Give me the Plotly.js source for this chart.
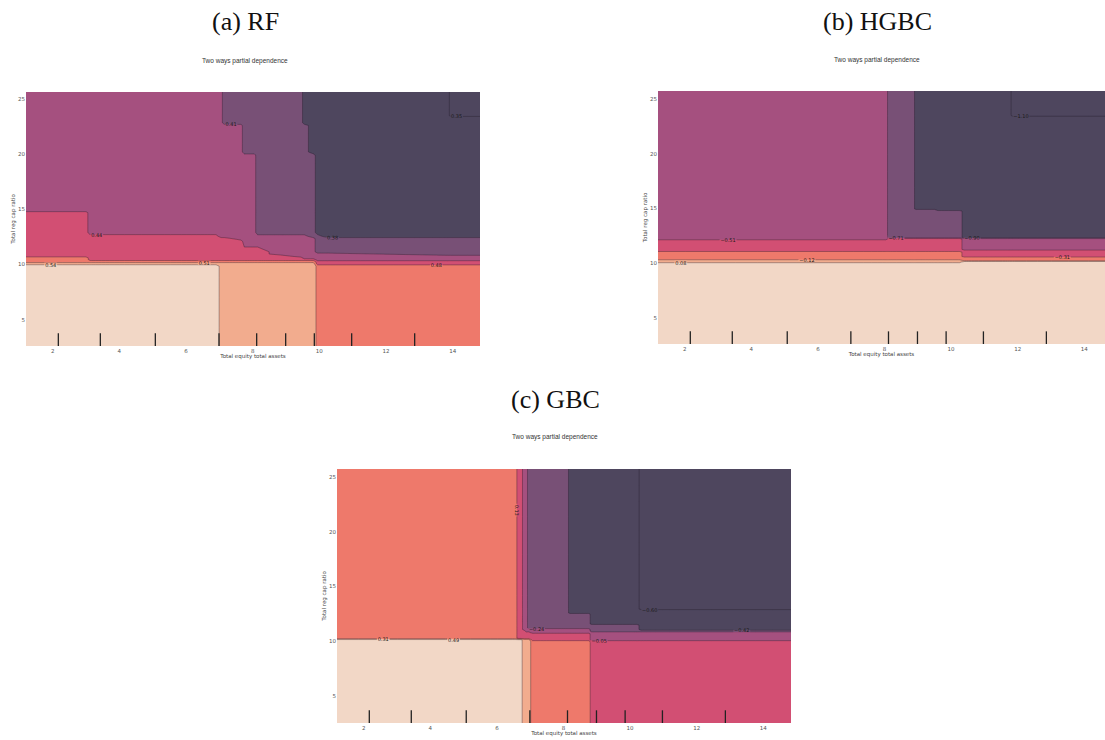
<!DOCTYPE html>
<html>
<head>
<meta charset="utf-8">
<script src="https://cdn.plot.ly/plotly-3.0.1.min.js"></script>
<style>
html,body{margin:0;padding:0;background:#fff;}
#chart{width:1105px;height:740px;}
</style>
</head>
<body>
<div id="chart"></div>
<script>
// ---------- shared data ----------
const xTickVals = [2, 4, 6, 8, 10, 12, 14];
const yTickVals = [5, 10, 15, 20, 25];
const deciles = [2.17, 3.43, 5.08, 6.99, 8.12, 8.99, 9.85, 10.97, 12.86];
const regionCodes = ['X', 'D', 'M', 'Q', 'P', 'S', 'A', 'L'];

// ---------- (a) RF ----------
const rfLevels = [0.350, 0.381, 0.413, 0.444, 0.476, 0.507, 0.538];
const rfRegionValues = [0.335, 0.365, 0.395, 0.425, 0.460, 0.495, 0.525, 0.560];
const rfX = [1.2, 3.0, 3.12, 6.9, 7.05, 7.15, 7.65, 7.75, 8.05, 8.15, 8.9, 9.45, 9.55, 9.82, 9.95, 10.25, 13.85, 13.95, 14.82];
const rfY = [2.6, 9.85, 10.05, 10.25, 10.45, 10.6, 10.75, 10.95, 11.15, 12.1, 12.35, 12.55, 12.9, 14.7, 14.9, 19.9, 20.2, 22.6, 22.85, 23.35, 23.5, 25.66];
const rfGrid = [
  "LLLLAAAAAAAAAASSSSS",
  "LLLLAAAAAAAAAASSSSS",
  "AAAAAAAAAAAAAAPPPPP",
  "SSSSSSSSSSSSSSPPPPP",
  "SSPPPPPPPPPPPPQQQQQ",
  "SSPPPPPPPPPPQQQQQQQ",
  "PPPPPPPPPPPQQQQQQQQ",
  "PPPPPPPPPPQQQQQQMMM",
  "PPPPPPPPPPQQQQMMMMM",
  "PPPPPPPQQQQQQQMMMMM",
  "PPPPPPQQQQQQQQMMMMM",
  "PPPPQQQQQQQQQMMDDDD",
  "PPQQQQQQQMMMMMDDDDD",
  "PPQQQQQQQMMMMMDDDDD",
  "QQQQQQQQQMMMMMDDDDD",
  "QQQQQQQQQMMMMMDDDDD",
  "QQQQQQQMMMMMMDDDDDD",
  "QQQQQQQMMMMMMDDDDDD",
  "QQQQQMMMMMMMDDDDDDD",
  "QQQQQMMMMMMMDDDDDDD",
  "QQQQQMMMMMMMDDDDDXX",
  "QQQQQMMMMMMMDDDDDXX"
];

// ---------- (b) HGBC ----------
const hgLevels = [-1.10, -0.90, -0.71, -0.51, -0.31, -0.12, 0.08];
const hgRegionValues = [-1.20, -1.00, -0.80, -0.61, -0.41, -0.22, -0.02, 0.20];
const hgX = [1.2, 8.04, 8.14, 8.85, 8.95, 9.5, 9.6, 10.25, 10.4, 11.75, 11.85, 14.82];
const hgY = [2.6, 9.95, 10.1, 10.25, 10.35, 10.5, 10.6, 11.0, 11.12, 11.25, 12.05, 12.2, 12.35, 14.75, 14.85, 14.95, 23.35, 23.5, 25.73];
const hgGrid = [
  "LLLLLLLLLLLL",
  "LLLLLLLLLLLL",
  "AAAAAAAALLLL",
  "AAAAAAAASSSS",
  "SSSSSSSSSSSS",
  "SSSSSSSSSSSS",
  "SSSSSSSSPPPP",
  "SSSSSSSSPPPP",
  "PPPPPPPPPPPP",
  "PPPPPPPPQQQQ",
  "PPPPPPPPQQQQ",
  "QQPPPPPPQQQQ",
  "QQMMMMMMDDDD",
  "QQMMMMMMDDDD",
  "QQMMMMDDDDDD",
  "QQMMDDDDDDDD",
  "QQMMDDDDDDDD",
  "QQMMDDDDDDXX",
  "QQMMDDDDDDXX"
];

// ---------- (c) GBC ----------
const gbLevels = [-0.602, -0.420, -0.237, -0.055, 0.127, 0.310, 0.492];
const gbRegionValues = [-0.68, -0.51, -0.33, -0.15, 0.035, 0.22, 0.40, 0.55];
const gbX = [1.2, 6.55, 6.65, 6.72, 6.82, 6.88, 6.96, 7.07, 8.1, 8.2, 8.75, 8.85, 10.2, 10.33, 14.83];
const gbY = [2.58, 10.0, 10.15, 10.3, 10.7, 10.8, 10.95, 11.1, 11.25, 11.5, 11.6, 12.5, 12.6, 12.85, 12.95, 25.7];
const gbGrid = [
  "LLLLAAASSSSPPPP",
  "LLLLAAASSSSPPPP",
  "LLLLAAAPPPPQQQQ",
  "SSPPPPPPPPPQQQQ",
  "SSPPPPPPPPPQQQQ",
  "SSPPPPPQQQQQQQQ",
  "SSPPPQQQQQQMMMM",
  "SSPPQQQQQQQMMDD",
  "SSPPQQMMMMMMMDD",
  "SSPPQQMMMMMMMDD",
  "SSPPQQMMMMMDDDD",
  "SSPPQQMMMMMDDDD",
  "SSPPQQMMMDDDDDD",
  "SSPPQQMMMDDDDDD",
  "SSPPQQMMMDDDDXX",
  "SSPPQQMMMDDDDXX"
];

// ---------- styling ----------
const bandColors = ['#4E465E', '#4E465E', '#785076', '#A5507F', '#D24F73', '#EE796B', '#F2AC8E', '#F2D7C6'];
const colorscale = bandColors.map((c, i) => [i / (bandColors.length - 1), c]);

function gridToZ(grid, values) {
  return grid.map(row => row.split('').map(ch => values[regionCodes.indexOf(ch)]));
}

function contourTrace(x, y, grid, values, levels, xa, ya) {
  const size = (levels[levels.length - 1] - levels[0]) / (levels.length - 1);
  return {
    type: 'contour',
    x: x, y: y, z: gridToZ(grid, values),
    xaxis: xa, yaxis: ya,
    autocontour: false,
    contours: {
      start: levels[0],
      end: levels[0] + size * (levels.length - 1),
      size: size,
      coloring: 'fill',
      showlabels: true,
      labelfont: {size: 5, color: '#1a1a1a', family: 'DejaVu Sans'},
      labelformat: '.2f'
    },
    line: {width: 0.6, color: 'rgba(35,25,40,0.6)', smoothing: 0},
    colorscale: colorscale,
    showscale: false,
    hoverinfo: 'skip'
  };
}

const data = [
  contourTrace(rfX, rfY, rfGrid, rfRegionValues, rfLevels, 'x', 'y'),
  contourTrace(hgX, hgY, hgGrid, hgRegionValues, hgLevels, 'x2', 'y2'),
  contourTrace(gbX, gbY, gbGrid, gbRegionValues, gbLevels, 'x3', 'y3')
];

const tickFont = {family: 'DejaVu Sans', size: 5.5, color: '#555'};
const axTitleFont = {family: 'DejaVu Sans', size: 5.5, color: '#444'};

function xAxis(domain, anchor, range) {
  return {
    domain: domain, anchor: anchor, range: range,
    tickmode: 'array', tickvals: xTickVals,
    ticks: '', showgrid: false, zeroline: false, showline: false,
    tickfont: tickFont,
    title: {text: 'Total equity total assets', font: axTitleFont, standoff: 1},
    fixedrange: true
  };
}
function yAxis(domain, anchor, range) {
  return {
    domain: domain, anchor: anchor, range: range,
    tickmode: 'array', tickvals: yTickVals,
    ticks: '', showgrid: false, zeroline: false, showline: false,
    tickfont: tickFont,
    title: {text: 'Total reg cap ratio', font: axTitleFont, standoff: 2},
    fixedrange: true
  };
}

const shapes = [];
[['x', 'y domain'], ['x2', 'y2 domain'], ['x3', 'y3 domain']].forEach(([xr, yr]) => {
  deciles.forEach(d => {
    shapes.push({type: 'line', xref: xr, yref: yr, x0: d, x1: d, y0: 0, y1: 0.05,
      line: {color: '#222', width: 1.3}, layer: 'above'});
  });
});

const titleFont = {family: 'Liberation Serif', size: 26, color: '#111'};
const subFont = {family: 'Liberation Sans', size: 6.5, color: '#333'};
const annotations = [
  {text: '(a) RF', x: 245 / 1105, y: 1 - 21 / 740, font: titleFont},
  {text: '(b) HGBC', x: 877 / 1105, y: 1 - 21 / 740, font: titleFont},
  {text: '(c) GBC', x: 555 / 1105, y: 1 - 399 / 740, font: titleFont},
  {text: 'Two ways partial dependence', x: 245 / 1105, y: 1 - 61 / 740, font: subFont},
  {text: 'Two ways partial dependence', x: 877 / 1105, y: 1 - 60 / 740, font: subFont},
  {text: 'Two ways partial dependence', x: 555 / 1105, y: 1 - 437 / 740, font: subFont}
].map(a => Object.assign({xref: 'paper', yref: 'paper', showarrow: false, xanchor: 'center', yanchor: 'middle'}, a));

const layout = {
  width: 1105, height: 740,
  margin: {l: 0, r: 0, t: 0, b: 0},
  paper_bgcolor: '#fff', plot_bgcolor: '#fff',
  showlegend: false,
  xaxis: xAxis([26 / 1105, 480 / 1105], 'y', [1.2, 14.82]),
  yaxis: yAxis([1 - 346 / 740, 1 - 92 / 740], 'x', [2.61, 25.64]),
  xaxis2: xAxis([658 / 1105, 1], 'y2', [1.2, 14.62]),
  yaxis2: yAxis([1 - 344 / 740, 1 - 91 / 740], 'x2', [2.6, 25.73]),
  xaxis3: xAxis([337 / 1105, 791 / 1105], 'y3', [1.2, 14.83]),
  yaxis3: yAxis([1 - 723 / 740, 1 - 469 / 740], 'x3', [2.58, 25.7]),
  shapes: shapes,
  annotations: annotations
};

Plotly.newPlot('chart', data, layout, {staticPlot: true, displayModeBar: false});
</script>
</body>
</html>
